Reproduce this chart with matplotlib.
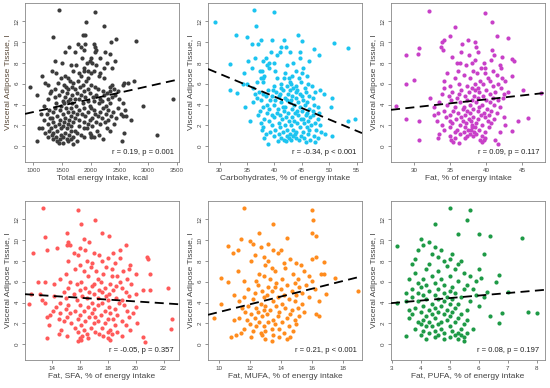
import matplotlib
matplotlib.use("Agg")
import matplotlib.pyplot as plt

plt.rcParams["font.family"] = ["Liberation Sans", "DejaVu Sans"]

# points, grouped by VAT value: (vat, [x values])
energy_rows = [
    (13.1, [1450]), (12.9, [2080]), (11.9, [1920]), (11.5, [2230]),
    (10.7, [1860, 1900]), (10.5, [1340]), (10.3, [2440]), (10.1, [2790]),
    (10.0, [2360]), (9.8, [1780, 2060, 1900]), (9.5, [1830, 2070, 1620]),
    (9.2, [1880, 2100]), (9.0, [1560, 1720, 2250, 2070]), (8.9, [2330]),
    (8.5, [1850, 2160, 2000]), (8.2, [1370, 2420, 1980]),
    (8.0, [1500, 1930, 2020, 2280]), (7.8, [1750, 1650, 2100]),
    (7.5, [1880, 2230, 2380]), (7.2, [1320, 1890, 1950, 2060, 1700]),
    (7.0, [1400, 1790, 2000, 2170]), (6.7, [1150, 1550, 1840, 2150]),
    (6.5, [1490, 1600, 1960, 2240]), (6.3, [1640, 1920, 2750, 1780]),
    (6.1, [1200, 1430, 1700, 2590, 2660]),
    (5.9, [1250, 1540, 1860, 2000, 2380, 2560]),
    (5.7, [940, 1570, 1680, 1820, 2070, 2330]),
    (5.5, [1380, 1610, 1720, 1950, 2130, 2400]),
    (5.3, [1310, 1500, 1880, 2210, 2330, 2480]),
    (5.1, [1290, 1590, 1760, 1990, 2290]),
    (4.9, [1060, 1450, 1670, 1840, 2100, 2240, 2420]),
    (4.7, [1370, 1560, 1900, 2040, 2380]),
    (4.5, [1260, 1640, 1720, 1800, 2170, 2300, 2490, 3440]),
    (4.3, [1510, 1600, 1950, 2060, 2190]),
    (4.1, [1400, 1530, 1680, 1860, 2140, 2330, 2560]),
    (3.9, [1190, 1480, 1740, 1990, 2260, 2920]),
    (3.7, [1380, 1570, 1650, 1880, 2000, 2220, 2470]),
    (3.5, [1270, 1460, 1800, 2050, 2310, 2600]),
    (3.3, [1350, 1600, 1700, 1950, 2160, 2390]),
    (3.1, [1130, 1230, 1520, 1760, 1850, 2080, 2270, 2530]),
    (2.9, [1420, 1650, 1910, 2120, 2350, 2560, 2620]),
    (2.7, [1290, 1330, 1560, 1730, 2020, 2200, 2440]),
    (2.5, [1180, 1470, 1620, 1800, 1990, 2310, 2700]),
    (2.3, [1350, 1540, 1700, 1880, 2090, 2250]),
    (2.1, [1250, 1440, 1600, 1950, 2170, 2400]),
    (1.9, [1370, 1520, 1660, 1790, 2030]),
    (1.7, [1100, 1160, 1310, 1480, 1590, 1890, 1930, 2280]),
    (1.5, [1280, 1420, 1650, 1720, 2110, 2330]),
    (1.3, [1200, 1350, 1560, 1770, 1980, 2590]),
    (1.1, [1330, 1490, 1620, 1830, 2000, 2150, 3150]),
    (0.9, [1250, 1400, 1520, 1700, 1880, 2010, 2060]),
    (0.7, [1350, 1460, 1580, 1650, 2210]),
    (0.5, [1070, 1420, 1600, 1760, 2540]),
    (0.3, [1440, 1520]), (0.2, [1690]),
]

carb_rows = [
    (13.1, [36.3]), (12.9, [40.0]), (11.9, [29.1]), (11.5, [36.6]),
    (10.7, [33.0, 44.3]), (10.5, [35.0]), (10.2, [37.5, 39.6, 41.7]),
    (10.1, [45.0]), (9.9, [50.8]), (9.8, [36.0, 37.0]),
    (9.5, [41.3, 42.2]), (9.4, [53.4]), (9.3, [47.2]),
    (9.0, [39.4, 41.0, 42.8, 44.7]), (8.8, [40.5, 48.2]),
    (8.5, [36.5, 38.5, 44.6]), (8.2, [35.2, 38.0, 46.3]),
    (8.0, [39.0, 39.9, 43.4]), (7.9, [32.0]), (7.8, [38.6, 42.3]),
    (7.5, [36.0, 39.0, 45.3]), (7.2, [37.3, 37.8, 40.1, 44.0]),
    (7.0, [34.5, 42.0, 45.1]), (6.7, [38.2, 43.2, 46.0]),
    (6.5, [37.5, 37.9, 40.5, 41.8, 42.7, 44.5]),
    (6.2, [36.8, 38.0, 42.9, 44.9]), (6.0, [34.2, 35.0, 41.3, 43.0, 46.2]),
    (5.8, [39.9, 42.4, 44.0, 46.8]), (5.6, [36.1, 41.2, 43.5, 45.6]),
    (5.4, [32.0, 38.9, 39.7, 41.5, 42.8, 44.2, 48.3]),
    (5.2, [37.2, 40.3, 43.9, 45.8, 47.5]), (5.1, [33.2]),
    (5.0, [36.4, 38.0, 41.0, 42.5, 44.6, 49.0]),
    (4.8, [38.4, 39.6, 40.8, 43.3, 45.0, 46.3]),
    (4.6, [36.8, 41.9, 44.0, 47.0, 50.6]),
    (4.4, [37.5, 39.2, 40.2, 42.3, 43.0, 45.2]),
    (4.2, [36.2, 41.2, 42.8, 44.4, 46.0]),
    (4.0, [38.6, 40.0, 43.6, 45.6, 47.3]),
    (3.8, [34.6, 37.9, 41.5, 42.0, 44.7, 48.0, 50.4]),
    (3.6, [39.1, 40.6, 43.3, 46.4]), (3.4, [37.3, 41.8, 44.1, 45.0, 47.0]),
    (3.2, [38.7, 40.4, 42.5, 43.7, 46.0, 48.2]),
    (3.0, [37.0, 39.5, 41.0, 44.3, 45.8, 47.1]),
    (2.8, [40.0, 42.2, 43.2, 46.6]),
    (2.6, [38.2, 41.4, 44.8, 45.3, 47.9, 54.8]),
    (2.4, [35.5, 39.0, 42.6, 43.6, 46.2, 53.4]),
    (2.2, [37.6, 40.8, 44.1, 45.5, 47.4]),
    (2.0, [39.6, 42.0, 43.0, 46.7, 48.4]), (1.8, [38.0, 41.1, 44.6, 45.9]),
    (1.6, [37.7, 40.2, 42.4, 43.5, 46.4, 47.6]),
    (1.4, [39.3, 41.6, 44.0, 45.2, 48.6]),
    (1.2, [38.5, 40.9, 42.9, 43.8, 46.1, 49.2]),
    (1.0, [40.0, 42.3, 43.4, 44.8, 47.2, 50.6]),
    (0.8, [38.2, 41.2, 42.6, 43.9, 45.5, 48.0]),
    (0.6, [41.8, 43.0, 44.5, 46.6]), (0.5, [40.6, 42.1]),
    (0.4, [45.8, 47.4]), (0.2, [38.9]),
]

fat_rows = [
    (13.0, [32.1]), (12.8, [39.8]), (11.9, [40.8]), (11.4, [35.7]),
    (10.6, [35.0, 41.5]), (10.4, [43.1]), (10.2, [34.2, 37.5]),
    (10.0, [33.8, 38.5]), (9.8, [36.7]), (9.5, [33.7, 38.6]),
    (9.4, [30.7]), (9.2, [34.0, 40.8]), (9.0, [36.5, 38.9]),
    (8.9, [30.5]), (8.8, [28.8, 37.6, 41.1]), (8.6, [35.2, 42.2]),
    (8.4, [43.6]), (8.3, [38.5, 40.7]), (8.2, [43.9]),
    (8.0, [35.9, 36.3, 38.1, 39.7]), (7.8, [37.2, 41.9]),
    (7.5, [39.3, 39.9, 42.1]), (7.2, [36.1, 38.2, 40.9]),
    (7.0, [34.5, 38.7, 39.8]), (6.8, [36.9, 41.5]), (6.7, [43.6]),
    (6.5, [35.7, 37.8, 40.2, 42.2]), (6.4, [30.0]),
    (6.3, [34.2, 39.1, 40.6, 42.6]), (6.0, [28.8, 36.2, 38.4, 39.6, 41.7]),
    (5.8, [35.0, 37.3, 41.0]), (5.6, [34.1, 38.0, 38.8, 42.1]),
    (5.4, [36.5, 38.4, 40.0, 45.2]), (5.2, [35.3, 37.6, 39.0, 41.3, 43.0]),
    (5.1, [47.6]), (5.0, [33.9, 36.2, 40.6, 42.5]),
    (4.8, [34.8, 37.1, 38.3, 39.6]), (4.6, [32.2, 36.0, 38.9, 41.0, 42.4]),
    (4.4, [35.1, 37.4, 38.0, 40.0, 41.7]), (4.2, [33.4, 36.3, 38.6, 40.5]),
    (4.0, [34.6, 37.7, 39.4, 41.1]), (3.9, [27.4]),
    (3.8, [32.8, 35.7, 36.9, 39.0, 41.9]), (3.6, [36.8, 38.2, 40.1]),
    (3.4, [34.1, 35.4, 37.3, 38.8, 40.7]),
    (3.2, [33.3, 36.1, 37.7, 39.7, 41.5]),
    (3.0, [32.8, 35.0, 37.0, 39.3, 40.4]),
    (2.8, [34.4, 36.5, 38.2, 39.9, 42.5]), (2.7, [45.9]),
    (2.6, [28.8, 35.8, 37.6, 38.9, 41.1]),
    (2.4, [30.6, 33.2, 34.9, 36.8, 37.9, 40.3, 44.4]),
    (2.2, [35.3, 37.2, 38.6, 40.7]), (2.0, [33.8, 36.3, 38.0, 39.4, 42.6]),
    (1.8, [35.0, 37.1, 38.1, 38.5, 40.4]),
    (1.6, [34.1, 36.0, 37.5, 37.9, 39.0]), (1.5, [43.6]),
    (1.4, [35.6, 36.9, 38.3, 39.8, 41.9]), (1.2, [33.5, 36.4, 37.7, 38.6]),
    (1.0, [34.9, 37.3, 38.2, 39.4]), (0.8, [33.3, 35.6, 37.1, 39.9]),
    (0.6, [30.6, 35.1, 39.2, 39.7, 41.3]), (0.4, [35.4, 39.4]),
    (0.3, [36.2]), (0.2, [41.6]),
]

sfa_rows = [
    (13.1, [13.4]), (12.9, [15.9]), (11.9, [17.1]), (11.5, [16.1]),
    (10.7, [15.1, 17.6]), (10.4, [18.1]), (10.3, [13.5]), (10.1, [16.3]),
    (9.8, [15.2, 16.7]), (9.5, [15.1, 15.3, 19.3]), (9.2, [14.4, 16.0]),
    (9.0, [13.7, 16.4, 18.9]), (8.8, [12.7, 15.6, 17.0, 18.4]),
    (8.6, [15.9, 17.4]), (8.4, [20.8]), (8.3, [18.0, 18.9]),
    (8.2, [20.9]), (8.0, [15.2, 17.6, 16.5]), (7.8, [16.9, 18.5]),
    (7.6, [16.0, 19.6]), (7.4, [16.8, 17.9]), (7.2, [15.7, 19.5, 18.3]),
    (7.0, [16.3, 17.2, 19.1]), (6.7, [15.0, 17.7, 20.0, 21.0]),
    (6.5, [16.6, 18.3, 18.7]), (6.3, [14.6, 17.3, 19.4]),
    (6.0, [13.0, 13.5, 15.3, 16.1, 17.5, 18.9]),
    (5.8, [14.2, 15.8, 17.0, 18.2, 19.7]), (5.6, [16.9, 18.6]),
    (5.4, [15.2, 16.4, 17.8, 19.0, 22.3]),
    (5.2, [16.0, 17.4, 18.4, 20.5, 21.0]),
    (5.0, [14.9, 16.7, 17.6, 19.3]),
    (4.8, [12.5, 13.2, 15.6, 17.0, 18.1, 20.0]),
    (4.6, [14.2, 16.2, 17.9, 19.5]), (4.4, [15.0, 16.5, 17.3, 18.6]),
    (4.2, [13.3, 15.8, 18.0, 19.0]), (4.0, [13.5, 14.6, 16.9, 17.6, 18.8]),
    (3.9, [12.4]), (3.8, [15.2, 16.0, 17.3, 19.2]),
    (3.6, [14.3, 16.6, 18.1, 20.0]), (3.4, [15.0, 17.0, 18.5]),
    (3.2, [14.1, 15.7, 16.3, 17.8, 19.4]),
    (3.0, [14.6, 15.3, 16.9, 18.2, 19.8]), (2.8, [13.9, 16.0, 17.5, 18.7]),
    (2.6, [13.7, 15.1, 16.7, 17.1, 19.5]),
    (2.4, [14.5, 15.9, 18.0, 18.4, 22.6]),
    (2.2, [14.9, 16.4, 17.3, 19.0]), (2.0, [15.4, 17.0, 17.8, 20.1]),
    (1.8, [13.8, 16.1, 18.5, 19.3]), (1.6, [15.7, 16.8, 17.6]),
    (1.5, [22.5]), (1.4, [14.7, 16.3, 18.2, 19.6]),
    (1.2, [15.9, 17.1, 18.0, 18.7]), (1.0, [14.5, 16.5, 17.4, 18.3]),
    (0.8, [15.1, 16.2, 17.7, 19.0]), (0.7, [20.5]),
    (0.6, [13.7, 16.0, 16.6, 18.0]), (0.4, [16.1, 18.2]),
    (0.3, [15.9]), (0.2, [20.7]),
]

mufa_rows = [
    (13.1, [11.6]), (12.9, [16.0]), (11.9, [16.1]), (11.5, [13.5]),
    (10.7, [12.6, 16.0]), (10.4, [16.3]), (10.2, [14.4]), (10.1, [11.4]),
    (9.9, [12.0]), (9.6, [12.2, 13.2]), (9.4, [10.6]), (9.3, [12.7]),
    (9.0, [11.2, 13.5, 14.0]), (8.8, [10.9, 13.8]), (8.6, [12.3]),
    (8.4, [12.9, 16.3]), (8.2, [14.6, 16.0]), (8.0, [12.1, 13.2]),
    (7.9, [16.8]), (7.8, [14.2, 15.0]), (7.6, [13.0, 15.3]),
    (7.3, [13.4, 14.3]), (7.0, [11.2, 13.6, 15.5]),
    (6.7, [12.6, 14.8, 16.6, 16.8]), (6.5, [12.9, 15.8]),
    (6.4, [10.1, 17.5]), (6.3, [13.3, 14.1, 15.1]),
    (6.1, [11.6, 12.4, 16.0]), (6.0, [10.6]), (5.9, [13.7, 14.9]),
    (5.7, [12.5, 14.4, 15.6]), (5.5, [13.2, 13.6, 15.2]),
    (5.3, [11.9, 14.0, 16.2]), (5.1, [12.8, 13.4, 14.7, 19.0]),
    (4.9, [12.3, 15.4]), (4.8, [16.9]), (4.7, [11.0, 13.1, 14.2, 15.0]),
    (4.5, [11.6, 12.9, 13.8, 15.8]), (4.3, [12.2, 14.5]),
    (4.1, [11.3, 13.5, 14.9, 16.5]), (3.9, [10.1, 12.7, 14.1, 15.4]),
    (3.7, [11.9, 13.0, 13.7]), (3.5, [11.5, 12.4, 14.3, 15.1]),
    (3.3, [12.9, 13.3, 14.7]), (3.1, [11.7, 12.5, 13.9, 15.5]),
    (2.9, [12.1, 13.1, 14.6, 16.3]), (2.7, [12.8, 13.8, 15.2, 16.5]),
    (2.5, [9.7, 11.3, 12.3, 14.4]), (2.3, [11.0, 11.8, 13.5, 14.9]),
    (2.1, [12.6, 13.2, 14.1]), (1.9, [12.0, 13.6, 15.0]),
    (1.7, [12.4, 12.9, 14.5]), (1.5, [11.6, 13.4, 13.9]),
    (1.3, [12.2, 13.0, 14.8]), (1.1, [11.4, 12.7, 14.2]),
    (0.9, [11.1, 12.8, 13.5]), (0.7, [10.8, 12.1, 13.9, 14.6]),
    (0.5, [13.0, 14.4]), (0.3, [13.4]),
]

pufa_rows = [
    (13.1, [5.0]), (12.9, [5.7]), (11.9, [5.6]), (11.5, [4.5]),
    (10.6, [5.3, 6.0]), (10.4, [6.4]), (10.2, [7.5]), (10.1, [4.0]),
    (9.8, [4.3]), (9.5, [4.1]), (9.4, [3.2]), (9.3, [4.5]),
    (9.0, [3.9, 4.7]), (8.7, [4.4, 5.1, 6.2]), (8.4, [4.6]),
    (8.2, [3.8, 5.0]), (8.0, [4.8, 5.4]), (7.7, [3.7, 4.3, 5.3]),
    (7.5, [4.9]), (7.2, [4.2, 5.2, 6.0]), (7.0, [4.6]),
    (6.8, [3.8, 5.5]), (6.6, [6.7]), (6.5, [4.4, 5.0, 5.7]),
    (6.4, [6.1]), (6.3, [3.6, 4.1, 4.7]), (6.1, [5.3, 5.9]),
    (6.0, [6.6]), (5.9, [3.9, 4.5]), (5.7, [4.2, 4.8, 5.6]),
    (5.5, [4.0, 5.1]), (5.3, [3.7, 4.6, 5.5, 5.8]), (5.1, [4.3, 5.0]),
    (5.0, [6.3, 7.0]), (4.9, [3.5, 3.9, 4.8, 5.2]),
    (4.7, [4.1, 4.5, 5.9]), (4.5, [3.7, 4.9, 5.4, 6.2]),
    (4.3, [4.2, 4.6, 5.1]), (4.1, [3.5, 3.9, 4.8, 5.7]),
    (4.0, [3.2]), (3.9, [4.4, 5.0, 5.3]), (3.7, [4.1, 4.7, 6.0]),
    (3.5, [3.8, 4.5, 5.2]), (3.3, [3.6, 4.3, 4.9, 5.6]),
    (3.1, [4.0, 4.6, 5.1, 7.7]), (3.0, [6.8, 8.0]),
    (2.9, [3.7, 4.4, 4.8, 5.4]), (2.7, [4.2, 5.0, 6.4]),
    (2.5, [3.6, 4.5, 5.3]), (2.3, [4.1, 4.9, 5.6]),
    (2.1, [3.9, 4.3, 4.7, 5.2]), (2.0, [6.7]), (1.9, [4.0, 4.6, 5.5]),
    (1.7, [4.2, 4.4, 5.0]), (1.5, [3.8, 4.7, 5.4, 5.8]),
    (1.3, [4.1, 4.5, 5.1]), (1.1, [4.3, 4.8, 5.3, 5.6]),
    (0.9, [4.0, 4.6, 5.2, 5.4]), (0.8, [3.5]), (0.7, [4.5, 5.0, 5.5]),
    (0.5, [4.2, 4.8, 5.3]), (0.3, [5.5]),
]

x_labels = [
    "Total energy intake, kcal", "Carbohydrates, % of energy intake",
    "Fat, % of energy intake", "Fat, SFA, % of energy intake",
    "Fat, MUFA, % of energy intake", "Fat, PUFA, % of energy intake",
]
stats = [
    "r = 0.19, p = 0.001", "r = -0.34, p < 0.001", "r = 0.09, p = 0.117",
    "r = -0.05, p = 0.357", "r = 0.21, p < 0.001", "r = 0.08, p = 0.197",
]
fit_intercept = [2.043, 13.53, 1.465, 5.864, -0.636, 3.222]
fit_slope = [0.001236, -0.2192, 0.0757, -0.0879, 0.372, 0.241]
x_ticks = [
    [1000, 1500, 2000, 2500, 3000, 3500], [30, 35, 40, 45, 50, 55],
    [30, 35, 40, 45], [14, 16, 18, 20, 22], [10, 12, 14, 16, 18],
    [3, 4, 5, 6, 7, 8],
]
x_limits = [(855, 3541), (27.9, 56.0), (26.75, 48.2), (12.1, 23.1),
            (9.29, 19.25), (2.98, 8.29)]
colors = ["#3c3c3c", "#1cc4f0", "#c840c8", "#ff5a5a", "#ff8c1e", "#1e9a46"]
all_rows = [energy_rows, carb_rows, fat_rows, sfa_rows, mufa_rows, pufa_rows]

fig = plt.figure(figsize=(5.5, 3.88), dpi=100)
lefts = [25 / 550, 208 / 550, 391 / 550]
bottoms = [1 - 162 / 388, 1 - 360 / 388]
w = 154 / 550
h = 159 / 388

for i in range(6):
    ax = fig.add_axes([lefts[i % 3], bottoms[i // 3], w, h])
    xs = [x for y, row in all_rows[i] for x in row]
    ys = [y for y, row in all_rows[i] for x in row]
    ax.scatter(xs, ys, s=9, color=colors[i], linewidths=0, zorder=2)
    ax.axline((0, fit_intercept[i]), slope=fit_slope[i], color="black",
              linestyle=(0, (5, 3)), linewidth=1.3, zorder=3)
    ax.set_xlim(*x_limits[i])
    ax.set_ylim(-1.52, 13.75)
    ax.set_xticks(x_ticks[i])
    ax.set_yticks([0, 2, 4, 6, 8, 10, 12])
    ax.tick_params(labelsize=4.5, length=2.5, width=0.5, colors="#666666",
                   labelcolor="#444444", pad=1.5)
    for lab in ax.get_yticklabels():
        lab.set_rotation(90)
        lab.set_va("center")
    for sp in ax.spines.values():
        sp.set_color("#888888")
        sp.set_linewidth(0.6)
    ax.set_xlabel(x_labels[i], fontsize=6, color="#444444", labelpad=2)
    ax.set_ylabel("Visceral Adipose Tissue, l", fontsize=6,
                  color="#5a4a3a" if i == 0 else "#444444", labelpad=2)
    ax.text(0.965, 0.035, stats[i], transform=ax.transAxes, ha="right",
            va="bottom", fontsize=5.5, color="#222222")

fig.savefig("out.png", dpi=100)
